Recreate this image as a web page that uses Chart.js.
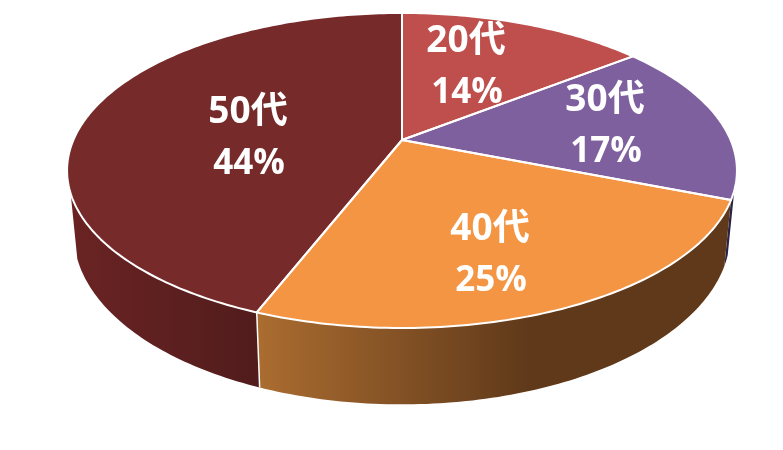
<!DOCTYPE html>
<html>
<head>
<meta charset="utf-8">
<style>
  html, body { margin: 0; padding: 0; background: #fff; }
  canvas { display: block; }
</style>
<script src="https://cdn.jsdelivr.net/npm/chart.js@4"></script>
</head>
<body>
<canvas id="pie" width="783" height="450"></canvas>
<script>
const ageGroups = ['20代', '30代', '40代', '50代'];
const shares = [14.4, 16.6, 24.9, 44.1];
const shareLabels = ['14%', '17%', '25%', '44%'];
const topColors = ['#BE4F4C', '#7F609F', '#F49543', '#772A2A'];

// perspective of the disc, worked out from the picture
const cx = 402, cy = 140, k = 0.1936;
const topDisc = { a: 328.6, b: 151.6, dy: 0 };
const bottomDisc = { a: 322, b: 164, dy: 61 };
const wallFrom = 108 * Math.PI / 180 - Math.PI / 2;
const wallTo = 250.7 * Math.PI / 180 - Math.PI / 2;

// side wall gradients per slice, null = not visible
const wallStyles = [
  null,
  { x0: 720, x1: 735, from: '#2B2348', to: '#2B2348' },
  { x0: 260, x1: 530, from: '#AA6C30', to: '#5F391A' },
  { x0: 75, x1: 260, from: '#6A2323', to: '#511C1C' }
];
const labelCenters = [[466, 67], [605, 126], [490, 255], [248, 138]];

function project(disc, angle, r = 1) {
  const X = r * Math.cos(angle), Y = r * Math.sin(angle);
  const d = 1 - k * Y;
  return [cx + disc.a * X / d, cy + disc.dy + disc.b * Y / d];
}

function rim(ctx, disc, a0, a1) {
  const steps = Math.max(2, Math.ceil(Math.abs(a1 - a0) * 60));
  for (let i = 0; i <= steps; i++) {
    const p = project(disc, a0 + (a1 - a0) * i / steps);
    ctx.lineTo(p[0], p[1]);
  }
}

const pie3d = {
  id: 'pie3d',
  beforeDatasetDraw(chart) {
    const ctx = chart.ctx;
    const arcs = chart.getDatasetMeta(0).data;
    ctx.save();

    // side walls, back to front
    [1, 3, 2].forEach(i => {
      const style = wallStyles[i];
      if (!style) return;
      const a0 = Math.max(arcs[i].startAngle, wallFrom);
      const a1 = Math.min(arcs[i].endAngle, wallTo);
      const grad = ctx.createLinearGradient(style.x0, 0, style.x1, 0);
      grad.addColorStop(0, style.from);
      grad.addColorStop(1, style.to);
      ctx.beginPath();
      rim(ctx, topDisc, a0, a1);
      rim(ctx, bottomDisc, a1, a0);
      ctx.closePath();
      ctx.fillStyle = grad;
      ctx.fill();
    });

    // white seam between the 40代 and 50代 walls
    const seamTop = project(topDisc, arcs[2].endAngle);
    const seamBottom = project(bottomDisc, arcs[2].endAngle);
    ctx.beginPath();
    ctx.moveTo(seamTop[0], seamTop[1]);
    ctx.lineTo(seamBottom[0], seamBottom[1]);
    ctx.strokeStyle = '#fff';
    ctx.lineWidth = 1.5;
    ctx.stroke();

    // top face
    arcs.forEach(arc => {
      ctx.beginPath();
      ctx.moveTo(cx, cy);
      rim(ctx, topDisc, arc.startAngle, arc.endAngle);
      ctx.closePath();
      ctx.fillStyle = arc.options.backgroundColor;
      ctx.fill();
    });
    arcs.forEach(arc => {
      ctx.beginPath();
      ctx.moveTo(cx, cy);
      rim(ctx, topDisc, arc.startAngle, arc.endAngle);
      ctx.closePath();
      ctx.strokeStyle = arc.options.borderColor;
      ctx.lineWidth = arc.options.borderWidth;
      ctx.lineJoin = 'round';
      ctx.stroke();
    });

    // labels
    ctx.fillStyle = '#fff';
    ctx.textAlign = 'center';
    ctx.textBaseline = 'middle';
    arcs.forEach((arc, i) => {
      const [lx, ly] = labelCenters[i];
      ctx.font = 'bold 37px "Open Sans", "Noto Sans CJK JP", sans-serif';
      ctx.fillText(ageGroups[i], lx, ly - 26);
      ctx.font = 'bold 35px "Open Sans", "Noto Sans CJK JP", sans-serif';
      ctx.fillText(shareLabels[i], lx + 1, ly + 26);
    });

    ctx.restore();
    return false;
  }
};

new Chart(document.getElementById('pie'), {
  type: 'pie',
  data: {
    labels: ageGroups,
    datasets: [{
      data: shares,
      backgroundColor: topColors,
      borderColor: '#fff',
      borderWidth: 2
    }]
  },
  options: {
    responsive: false,
    animation: false,
    events: [],
    plugins: { legend: { display: false }, tooltip: { enabled: false } }
  },
  plugins: [pie3d]
});
</script>
</body>
</html>
